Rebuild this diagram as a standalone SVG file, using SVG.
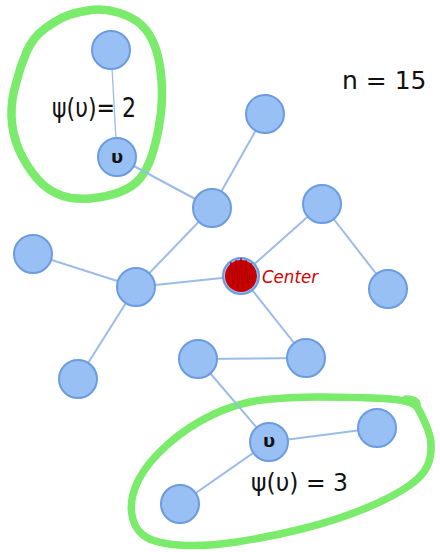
<svg xmlns="http://www.w3.org/2000/svg" width="440" height="552" viewBox="0 0 440 552">
<style>
.node{fill:#98c0f4;stroke:#6b9be0;stroke-width:2}
.edge{stroke:#9bbce8;stroke-width:2;fill:none}
.blob{fill:none;stroke:#7aeb6b;stroke-width:8.5;stroke-linejoin:round;stroke-linecap:round}
.hand{font-family:"DejaVu Sans",sans-serif;fill:#111}
</style>
<rect width="440" height="552" fill="#ffffff"/>
<g id="blobs">
<path class="blob" d="M65,16.5 Q57,20 45,28.5 Q33,37 26.5,52 Q20,67 16,83.5 Q11,100 11.5,116.5 Q12,133 19,150 Q27,167 37,178.5 Q47,190 60,195 Q73,200 90,198.5 Q107,197 120,192 Q133,187 140,178.5 Q147,170 152,155 Q157,140 160,120 Q163,100 161.5,80 Q160,60 155,46.5 Q150,33 141.5,25 Q133,17 118,12.5 Q103,8 88,10.5 Q73,13 65,16.5 Z"/>
<path class="blob" style="stroke-width:7.5" d="M383,398.5 Q353,397 320,397 Q287,397 262,400 Q237,403 212,415 Q187,427 167,445 Q147,463 138.5,480 Q130,497 131.5,512 Q133,527 143,535 Q153,543 178,545 Q203,547 236.5,542 Q270,537 303.5,528.5 Q337,520 365,508.5 Q393,497 410,485 Q427,473 430,458 Q433,443 428,430 Q423,417 418,408.5 Q413,400 383,398.5 Z"/>
<path class="blob" style="stroke-width:7.5" d="M406,399 Q416,399 417,404"/>
</g>
<g id="connectors">
<line class="edge" style="stroke-width:1.3" x1="111" y1="50" x2="117" y2="157"/>
<line class="edge" x1="117" y1="157" x2="212" y2="208"/>
<line class="edge" x1="265" y1="114" x2="212" y2="208"/>
<line class="edge" x1="212" y1="208" x2="136" y2="287"/>
<line class="edge" x1="33" y1="254" x2="136" y2="287"/>
<line class="edge" x1="136" y1="287" x2="78" y2="379"/>
<line class="edge" x1="136" y1="287" x2="241" y2="276"/>
<line class="edge" x1="241" y1="276" x2="322" y2="204"/>
<line class="edge" x1="322" y1="204" x2="388" y2="289"/>
<line class="edge" x1="241" y1="276" x2="306" y2="358"/>
<line class="edge" x1="198" y1="359" x2="306" y2="358"/>
<line class="edge" x1="198" y1="359" x2="269" y2="442"/>
<line class="edge" x1="269" y1="442" x2="377" y2="428"/>
<line class="edge" x1="269" y1="442" x2="180" y2="504"/>
</g>
<g id="n1"><circle class="node" cx="111" cy="50" r="19"/></g>
<g id="n2"><circle class="node" cx="117" cy="157" r="19"/><text class="hand" x="117" y="163" font-size="18" font-weight="bold" text-anchor="middle">υ</text></g>
<g id="n3"><circle class="node" cx="265" cy="114" r="19"/></g>
<g id="n4"><circle class="node" cx="212" cy="208" r="19"/></g>
<g id="n5"><circle class="node" cx="322" cy="204" r="19"/></g>
<g id="n6"><circle class="node" cx="33" cy="254" r="19"/></g>
<g id="n7"><circle class="node" cx="136" cy="287" r="19"/></g>
<g id="center"><circle class="node" cx="241" cy="276" r="18"/>
<circle cx="241" cy="276" r="16" fill="#cc0000"/>
<path d="M228,283 L231,262 L233,287 L236,260 L238,290 L241,258 L243,291 L246,260 L248,289 L251,263 L253,284" fill="none" stroke="#b00000" stroke-width="1.2"/>
<text x="262" y="283" font-family="DejaVu Sans, sans-serif" font-style="italic" font-size="18" fill="#d40000" textLength="56" lengthAdjust="spacingAndGlyphs">Center</text></g>
<g id="n9"><circle class="node" cx="388" cy="289" r="19"/></g>
<g id="n10"><circle class="node" cx="78" cy="379" r="19"/></g>
<g id="n11"><circle class="node" cx="198" cy="359" r="19"/></g>
<g id="n12"><circle class="node" cx="306" cy="358" r="19"/></g>
<g id="n13"><circle class="node" cx="269" cy="442" r="19"/><text class="hand" x="269" y="447" font-size="18" font-weight="bold" text-anchor="middle">υ</text></g>
<g id="n14"><circle class="node" cx="377" cy="428" r="19"/></g>
<g id="n15"><circle class="node" cx="180" cy="504" r="19"/></g>
<g id="labels">
<text class="hand" x="52" y="117" font-size="26" textLength="84" lengthAdjust="spacingAndGlyphs">ψ(υ)= 2</text>
<text class="hand" x="251" y="491" font-size="24" textLength="97" lengthAdjust="spacingAndGlyphs">ψ(υ) = 3</text>
<text class="hand" x="342" y="89" font-size="25">n = 15</text>
</g>
</svg>
